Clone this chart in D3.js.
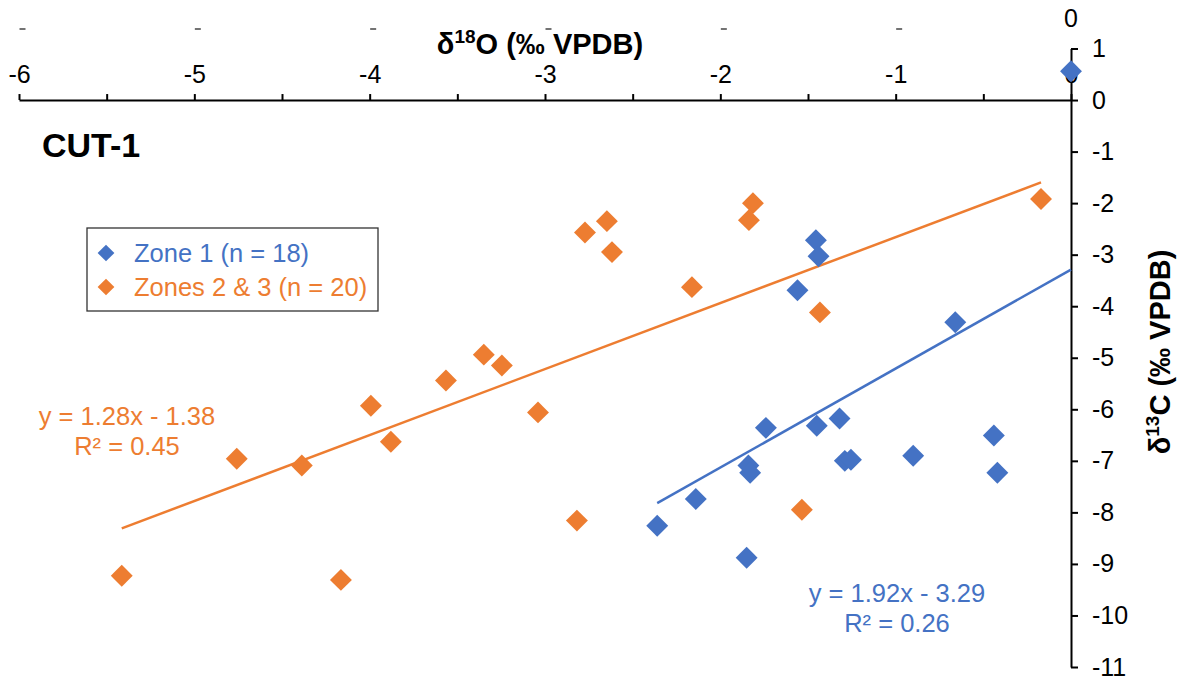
<!DOCTYPE html>
<html>
<head>
<meta charset="utf-8">
<script src="https://cdn.jsdelivr.net/npm/d3@7"></script>
<style>
	body { margin: 0; background: #fff; }
	svg { display: block; font-family: "Liberation Sans", Arial, sans-serif; }
	.axis path, .axis line { stroke: #000; stroke-width: 2; }
	.axis text { font-size: 25px; fill: #000; font-family: "Liberation Sans", Arial, sans-serif; }
</style>
</head>
<body>
<div id="chart"></div>
<script>
// d18O (x) and d13C (y) values
var zone1X = [0.0, -1.455, -1.44, -1.56, -0.66, -1.74, -1.32, -1.45, -1.29, -1.255, -0.90, -0.44, -0.42, -1.84, -1.83, -2.14, -2.36, -1.85];
var zone1Y = [0.56, -2.72, -3.03, -3.69, -4.31, -6.36, -6.18, -6.32, -7.0, -6.98, -6.90, -6.51, -7.23, -7.09, -7.23, -7.74, -8.26, -8.88];

var zone23X = [-0.171, -1.814, -1.837, -2.647, -2.772, -2.618, -2.162, -1.432, -3.349, -3.246, -3.565, -3.04, -3.993, -3.879, -4.758, -4.387, -2.818, -1.535, -5.414, -4.164];
var zone23Y = [-1.92, -2.00, -2.33, -2.35, -2.57, -2.95, -3.63, -4.12, -4.94, -5.15, -5.44, -6.06, -5.93, -6.63, -6.96, -7.09, -8.16, -7.95, -9.23, -9.31];

// trend lines as printed on the chart
var seriesNames = ["Zone 1 (n = 18)", "Zones 2 & 3 (n = 20)"];
var trendSlope = [1.92, 1.28];
var trendIntercept = [-3.29, -1.38];
var trendText = [["y = 1.92x - 3.29", "R\u00b2 = 0.26"], ["y = 1.28x - 1.38", "R\u00b2 = 0.45"]];
var colors = ["#4472C4", "#ED7D31"];

var xTicks = [-6, -5.5, -5, -4.5, -4, -3.5, -3, -2.5, -2, -1.5, -1, -0.5, 0];
var yTicks = [1, 0, -1, -2, -3, -4, -5, -6, -7, -8, -9, -10, -11];
var strayTicks = [-6, -5, -4, -3, -2, -1];

var width = 1178;
var height = 681;

var svg = d3.select('#chart')
	.append('svg')
	.attr('width', width)
	.attr('height', height);

//Scales
var x = d3.scaleLinear().domain([-6, 0]).range([19, 1071]);
var y = d3.scaleLinear().domain([-11, 1]).range([667, 48.5]);

//remains of a label row cut at the top of the picture
svg.selectAll(".stray")
	.data(strayTicks)
	.enter()
	.append("line")
	.attr("class", "stray")
	.attr("x1", function(d) { return x(d) + 0.5; })
	.attr("x2", function(d) { return x(d) + 6.5; })
	.attr("y1", 29)
	.attr("y2", 29)
	.attr("stroke", "#444")
	.attr("stroke-width", 1.5);
svg.append("text")
	.attr("x", x(0))
	.attr("y", 27)
	.attr("text-anchor", "middle")
	.attr("font-size", 25)
	.text("0");

//x axis along y = 0, labels on top
svg.append("g")
	.attr("class", "x axis")
	.attr("transform", "translate(0," + y(0) + ")")
	.call(d3.axisTop(x)
		.tickValues(xTicks)
		.tickSize(6)
		.tickSizeOuter(0)
		.tickPadding(11)
		.tickFormat(function(d) { return d % 1 === 0 ? String(d) : ""; }));

//y axis along x = 0, labels on the right
svg.append("g")
	.attr("class", "y axis")
	.attr("transform", "translate(" + x(0) + ",0)")
	.call(d3.axisRight(y)
		.tickValues(yTicks)
		.tickSize(7)
		.tickSizeOuter(0)
		.tickPadding(14)
		.tickFormat(function(d) { return String(d); }));

//axis titles
var xTitle = svg.append("text")
	.attr("x", 540)
	.attr("y", 54)
	.attr("text-anchor", "middle")
	.attr("font-size", 29)
	.attr("font-weight", "bold");
xTitle.append("tspan").text("\u03b4");
xTitle.append("tspan").attr("font-size", 19).attr("dy", -11).text("18");
xTitle.append("tspan").attr("dy", 11).text("O (\u2030 VPDB)");

var yTitle = svg.append("text")
	.attr("transform", "translate(1170,352) rotate(-90)")
	.attr("text-anchor", "middle")
	.attr("font-size", 29)
	.attr("font-weight", "bold");
yTitle.append("tspan").text("\u03b4");
yTitle.append("tspan").attr("font-size", 19).attr("dy", -11).text("13");
yTitle.append("tspan").attr("dy", 11).text("C (\u2030 VPDB)");

//panel label
svg.append("text")
	.attr("x", 42)
	.attr("y", 157)
	.attr("font-size", 34)
	.attr("font-weight", "bold")
	.text("CUT-1");

var series = [
	{ xs: zone1X, ys: zone1Y },
	{ xs: zone23X, ys: zone23Y }
];

var diamond = d3.symbol().type(d3.symbolSquare).size(240);

//trend lines, drawn over the data range of each series
series.forEach(function(s, i) {
	var x0 = d3.min(s.xs), x1 = d3.max(s.xs);
	svg.append("line")
		.attr("x1", x(x0))
		.attr("y1", y(trendSlope[i] * x0 + trendIntercept[i]))
		.attr("x2", x(x1))
		.attr("y2", y(trendSlope[i] * x1 + trendIntercept[i]))
		.attr("stroke", colors[i])
		.attr("stroke-width", 2.5);
});

//points (orange first, blue on top)
[1, 0].forEach(function(i) {
	var s = series[i];
	svg.selectAll(".pt" + i)
		.data(d3.range(s.xs.length))
		.enter()
		.append("path")
		.attr("class", "pt" + i)
		.attr("d", diamond)
		.attr("fill", colors[i])
		.attr("transform", function(k) {
			return "translate(" + x(s.xs[k]) + "," + y(s.ys[k]) + ") rotate(45)";
		});
});

//equation labels
var eqPos = [[897, 602], [127, 425]];
trendText.forEach(function(lines, i) {
	lines.forEach(function(t, j) {
		svg.append("text")
			.attr("x", eqPos[i][0])
			.attr("y", eqPos[i][1] + j * 30)
			.attr("text-anchor", "middle")
			.attr("font-size", 25.5)
			.attr("fill", colors[i])
			.text(t);
	});
});

//legend
var legend = svg.append("g").attr("transform", "translate(87,228)");
legend.append("rect")
	.attr("width", 291)
	.attr("height", 83)
	.attr("fill", "#fff")
	.attr("stroke", "#333")
	.attr("stroke-width", 1.3);
seriesNames.forEach(function(name, i) {
	var row = legend.append("g").attr("transform", "translate(0," + (25 + i * 34) + ")");
	row.append("path")
		.attr("d", d3.symbol().type(d3.symbolSquare).size(140))
		.attr("transform", "translate(19,0) rotate(45)")
		.attr("fill", colors[i]);
	row.append("text")
		.attr("x", 47)
		.attr("y", 9)
		.attr("font-size", 25.5)
		.attr("fill", colors[i])
		.text(name);
});
</script>
</body>
</html>
